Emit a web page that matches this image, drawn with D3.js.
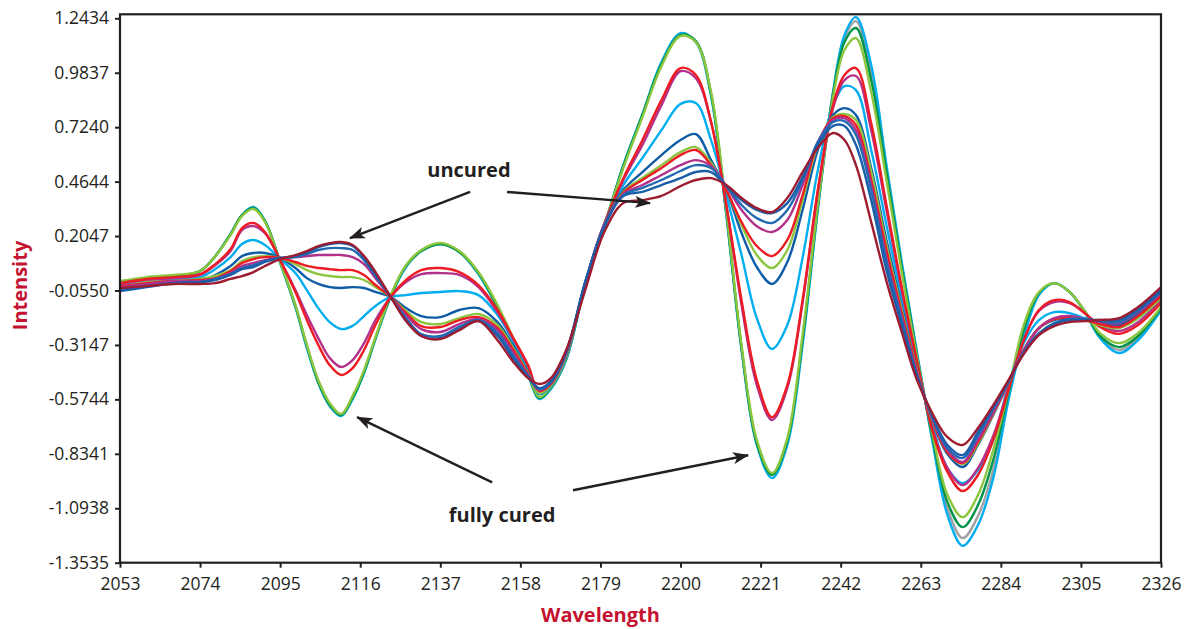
<!DOCTYPE html>
<html>
<head>
<meta charset="utf-8">
<script src="https://cdnjs.cloudflare.com/ajax/libs/d3/7.8.5/d3.min.js"></script>
<style>
  body { margin: 0; background: #fff; }
  svg { display: block; font-family: "Open Sans", sans-serif; }
</style>
</head>
<body>
<div id="chart"></div>
<script>
// wavelength grid shared by every spectrum
const wavelengths = [2053,2060,2067,2074,2078,2082,2085,2088,2091,2095,2099,2102,2105,2108,2111,2114,2117,2120,2124,2128,2132,2137,2142,2147,2152,2156,2160,2163,2166,2170,2175,2180,2185,2190,2195,2200,2204,2208,2212,2216,2220,2224,2228,2232,2236,2240,2243,2246,2250,2254,2258,2262,2266,2270,2274,2278,2282,2286,2290,2294,2298,2302,2306,2310,2315,2320,2326];

// spectra, roughly from uncured to fully cured
const darkRed = [-0.043,-0.034,-0.024,-0.024,-0.020,0.000,0.014,0.033,0.062,0.095,0.114,0.133,0.157,0.171,0.176,0.162,0.109,0.033,-0.086,-0.201,-0.272,-0.287,-0.244,-0.201,-0.292,-0.392,-0.473,-0.501,-0.473,-0.339,-0.053,0.224,0.362,0.376,0.396,0.443,0.472,0.481,0.448,0.386,0.338,0.319,0.386,0.510,0.625,0.696,0.663,0.543,0.271,-0.010,-0.253,-0.482,-0.640,-0.755,-0.792,-0.711,-0.602,-0.482,-0.358,-0.268,-0.225,-0.206,-0.201,-0.196,-0.187,-0.134,-0.039];
const blue1 = [-0.058,-0.039,-0.020,-0.015,-0.005,0.019,0.047,0.057,0.081,0.100,0.109,0.128,0.152,0.167,0.171,0.157,0.104,0.023,-0.086,-0.196,-0.272,-0.282,-0.239,-0.201,-0.272,-0.377,-0.468,-0.521,-0.487,-0.349,-0.015,0.248,0.396,0.415,0.448,0.481,0.510,0.510,0.443,0.376,0.329,0.314,0.362,0.486,0.639,0.730,0.730,0.639,0.376,0.042,-0.220,-0.468,-0.649,-0.792,-0.840,-0.730,-0.611,-0.487,-0.353,-0.263,-0.215,-0.196,-0.196,-0.196,-0.196,-0.144,-0.053];
const blue2 = [-0.053,-0.034,-0.020,-0.015,0.000,0.023,0.052,0.066,0.085,0.100,0.104,0.119,0.138,0.147,0.147,0.138,0.090,0.014,-0.086,-0.187,-0.263,-0.272,-0.229,-0.196,-0.258,-0.363,-0.463,-0.525,-0.492,-0.353,-0.015,0.252,0.400,0.434,0.472,0.515,0.543,0.529,0.443,0.353,0.290,0.267,0.329,0.472,0.653,0.749,0.753,0.687,0.424,0.081,-0.196,-0.458,-0.659,-0.807,-0.854,-0.749,-0.621,-0.492,-0.349,-0.258,-0.210,-0.191,-0.191,-0.201,-0.206,-0.153,-0.062];
const magenta1 = [-0.039,-0.024,-0.010,-0.010,0.000,0.028,0.062,0.076,0.090,0.100,0.104,0.109,0.114,0.114,0.114,0.104,0.071,0.004,-0.086,-0.172,-0.239,-0.253,-0.215,-0.191,-0.244,-0.349,-0.458,-0.530,-0.496,-0.353,-0.020,0.257,0.405,0.448,0.496,0.543,0.567,0.539,0.443,0.329,0.252,0.224,0.281,0.448,0.653,0.758,0.767,0.710,0.448,0.100,-0.182,-0.449,-0.663,-0.816,-0.873,-0.768,-0.635,-0.492,-0.339,-0.234,-0.187,-0.177,-0.191,-0.206,-0.210,-0.158,-0.067];
const red1 = [-0.034,-0.020,-0.010,-0.005,0.004,0.038,0.076,0.095,0.104,0.100,0.081,0.062,0.052,0.047,0.042,0.042,0.019,-0.029,-0.086,-0.162,-0.225,-0.229,-0.196,-0.182,-0.234,-0.334,-0.453,-0.535,-0.501,-0.358,-0.020,0.257,0.410,0.472,0.529,0.591,0.615,0.543,0.424,0.271,0.157,0.109,0.186,0.400,0.648,0.767,0.777,0.734,0.472,0.138,-0.163,-0.439,-0.668,-0.826,-0.878,-0.778,-0.640,-0.496,-0.339,-0.234,-0.191,-0.187,-0.196,-0.215,-0.229,-0.177,-0.082];
const green1 = [-0.039,-0.015,-0.010,0.000,0.014,0.042,0.085,0.104,0.109,0.100,0.071,0.042,0.023,0.014,0.009,0.009,-0.005,-0.039,-0.086,-0.153,-0.206,-0.215,-0.187,-0.167,-0.220,-0.325,-0.449,-0.544,-0.506,-0.363,-0.020,0.257,0.415,0.482,0.543,0.605,0.629,0.553,0.424,0.257,0.114,0.052,0.138,0.376,0.639,0.772,0.787,0.758,0.510,0.162,-0.148,-0.435,-0.673,-0.826,-0.883,-0.787,-0.644,-0.496,-0.339,-0.234,-0.191,-0.187,-0.196,-0.220,-0.234,-0.187,-0.091];
const darkBlue = [-0.048,-0.029,-0.015,-0.010,0.019,0.062,0.109,0.124,0.124,0.100,0.052,0.004,-0.024,-0.039,-0.043,-0.039,-0.043,-0.062,-0.086,-0.139,-0.177,-0.182,-0.148,-0.139,-0.206,-0.315,-0.444,-0.539,-0.501,-0.363,-0.020,0.262,0.424,0.510,0.591,0.663,0.691,0.567,0.424,0.219,0.057,-0.024,0.081,0.329,0.615,0.782,0.815,0.782,0.529,0.186,-0.134,-0.430,-0.678,-0.835,-0.897,-0.792,-0.649,-0.496,-0.339,-0.234,-0.196,-0.187,-0.196,-0.210,-0.220,-0.167,-0.072];
const cyan1 = [-0.024,-0.010,0.000,0.009,0.047,0.104,0.167,0.186,0.162,0.095,0.028,-0.053,-0.139,-0.206,-0.239,-0.224,-0.177,-0.129,-0.086,-0.077,-0.067,-0.062,-0.058,-0.077,-0.172,-0.292,-0.425,-0.549,-0.511,-0.373,-0.024,0.257,0.448,0.577,0.710,0.835,0.839,0.662,0.400,0.114,-0.187,-0.334,-0.220,0.100,0.519,0.829,0.920,0.901,0.615,0.257,-0.091,-0.411,-0.697,-0.902,-0.974,-0.912,-0.768,-0.506,-0.306,-0.196,-0.158,-0.163,-0.187,-0.210,-0.229,-0.187,-0.091];
const magenta2 = [-0.024,-0.005,0.004,0.019,0.066,0.133,0.233,0.252,0.219,0.090,-0.053,-0.172,-0.282,-0.377,-0.420,-0.387,-0.306,-0.196,-0.086,-0.015,0.023,0.028,0.019,-0.039,-0.158,-0.282,-0.415,-0.539,-0.501,-0.363,-0.020,0.262,0.472,0.639,0.829,0.991,0.958,0.749,0.353,-0.124,-0.506,-0.673,-0.520,-0.115,0.415,0.815,0.949,0.968,0.710,0.329,-0.053,-0.396,-0.711,-0.902,-0.983,-0.902,-0.749,-0.520,-0.292,-0.153,-0.110,-0.115,-0.163,-0.220,-0.248,-0.206,-0.101];
const red2 = [-0.020,0.000,0.009,0.023,0.071,0.143,0.243,0.267,0.224,0.090,-0.062,-0.196,-0.315,-0.411,-0.458,-0.425,-0.339,-0.220,-0.086,-0.005,0.042,0.052,0.033,-0.029,-0.148,-0.277,-0.411,-0.544,-0.506,-0.363,-0.020,0.262,0.481,0.662,0.853,1.006,0.973,0.749,0.353,-0.101,-0.482,-0.659,-0.506,-0.101,0.424,0.829,0.973,1.006,0.743,0.353,-0.039,-0.392,-0.720,-0.921,-1.012,-0.935,-0.768,-0.530,-0.292,-0.148,-0.101,-0.110,-0.163,-0.229,-0.262,-0.220,-0.115];
const green2 = [-0.010,0.009,0.019,0.038,0.109,0.209,0.300,0.334,0.272,0.081,-0.124,-0.315,-0.482,-0.592,-0.644,-0.558,-0.435,-0.277,-0.077,0.066,0.138,0.172,0.133,0.033,-0.124,-0.277,-0.444,-0.563,-0.515,-0.377,-0.015,0.257,0.529,0.772,1.015,1.159,1.130,0.892,0.329,-0.315,-0.768,-0.926,-0.759,-0.267,0.353,0.867,1.092,1.149,0.892,0.472,0.033,-0.373,-0.731,-1.031,-1.136,-1.031,-0.816,-0.530,-0.220,-0.062,-0.020,-0.062,-0.153,-0.258,-0.306,-0.258,-0.134];
const darkGreen = [-0.015,0.004,0.014,0.038,0.109,0.214,0.305,0.339,0.277,0.081,-0.129,-0.320,-0.492,-0.601,-0.649,-0.568,-0.444,-0.282,-0.081,0.062,0.133,0.167,0.129,0.028,-0.134,-0.287,-0.453,-0.568,-0.520,-0.382,-0.024,0.252,0.539,0.782,1.025,1.164,1.135,0.882,0.315,-0.330,-0.783,-0.935,-0.772,-0.292,0.343,0.882,1.130,1.197,0.949,0.510,0.056,-0.363,-0.749,-1.065,-1.184,-1.079,-0.864,-0.544,-0.244,-0.067,-0.020,-0.062,-0.153,-0.272,-0.325,-0.272,-0.139];
const gray = [-0.015,0.004,0.014,0.038,0.109,0.214,0.305,0.339,0.277,0.081,-0.129,-0.320,-0.492,-0.601,-0.649,-0.568,-0.444,-0.282,-0.081,0.062,0.133,0.167,0.129,0.028,-0.134,-0.287,-0.453,-0.568,-0.520,-0.382,-0.024,0.252,0.539,0.782,1.025,1.164,1.135,0.882,0.315,-0.330,-0.783,-0.935,-0.772,-0.292,0.343,0.887,1.149,1.230,0.987,0.529,0.066,-0.358,-0.759,-1.093,-1.236,-1.131,-0.911,-0.568,-0.268,-0.072,-0.020,-0.062,-0.158,-0.277,-0.339,-0.282,-0.144];
const cyan2 = [-0.015,0.004,0.014,0.038,0.109,0.214,0.305,0.343,0.277,0.076,-0.134,-0.330,-0.496,-0.606,-0.654,-0.573,-0.449,-0.287,-0.086,0.057,0.133,0.167,0.129,0.023,-0.139,-0.292,-0.458,-0.573,-0.525,-0.387,-0.029,0.252,0.543,0.786,1.035,1.173,1.130,0.873,0.305,-0.339,-0.792,-0.950,-0.792,-0.315,0.329,0.892,1.164,1.249,1.021,0.543,0.081,-0.349,-0.768,-1.126,-1.273,-1.174,-0.950,-0.578,-0.282,-0.077,-0.020,-0.062,-0.158,-0.282,-0.353,-0.292,-0.148];

const xTicks = [2053,2074,2095,2116,2137,2158,2179,2200,2221,2242,2263,2284,2305,2326];
const yTicks = [1.2434,0.9837,0.7240,0.4644,0.2047,-0.0550,-0.3147,-0.5744,-0.8341,-1.0938,-1.3535];

// draw order: later ones end up on top
const series = [
  { values: gray, color: '#a1a1a4' },
  { values: cyan2, color: '#00adef' },
  { values: darkGreen, color: '#00944a' },
  { values: green2, color: '#8cc63f' },
  { values: cyan1, color: '#00adef' },
  { values: magenta2, color: '#b3318b' },
  { values: red2, color: '#ed1c24' },
  { values: darkBlue, color: '#0f5ca6' },
  { values: green1, color: '#8cc63f' },
  { values: red1, color: '#ed1c24' },
  { values: magenta1, color: '#b3318b' },
  { values: blue2, color: '#2169b2' },
  { values: blue1, color: '#1a5da8' },
  { values: darkRed, color: '#9e1c30' }
];

const width = 1190;
const height = 629;
const margin = { top: 18.3, right: 29, bottom: 66.3, left: 120 };
const ink = '#231f20';
const redLabel = '#c41230';

const svg = d3.select('#chart').append('svg')
  .attr('width', width)
  .attr('height', height);

const x = d3.scaleLinear()
  .domain([2053, 2326])
  .range([margin.left, width - margin.right]);
const y = d3.scaleLinear()
  .domain([-1.3535, 1.2434])
  .range([height - margin.bottom, margin.top]);

const line = d3.line()
  .x((d, i) => x(wavelengths[i]))
  .y(d => y(d))
  .curve(d3.curveCatmullRom.alpha(0.5));

svg.append('g')
  .selectAll('path')
  .data(series)
  .enter()
  .append('path')
    .attr('d', d => line(d.values))
    .attr('fill', 'none')
    .attr('stroke', d => d.color)
    .attr('stroke-width', 2.4)
    .attr('stroke-linejoin', 'round');

// frame (top edge sits a little above the first tick)
const frameTop = y(1.2434) - 4;
svg.append('rect')
  .attr('x', x(2053))
  .attr('y', frameTop)
  .attr('width', x(2326) - x(2053))
  .attr('height', y(-1.3535) - frameTop)
  .attr('fill', 'none')
  .attr('stroke', ink)
  .attr('stroke-width', 2.2);

svg.append('g')
  .attr('transform', `translate(${x(2053)}, 0)`)
  .call(d3.axisLeft(y).tickValues(yTicks).tickSize(5).tickPadding(6).tickFormat(d => d.toFixed(4)))
  .call(g => g.select('.domain').remove());

svg.append('g')
  .attr('transform', `translate(0, ${y(-1.3535)})`)
  .call(d3.axisBottom(x).tickValues(xTicks).tickSize(5).tickPadding(10).tickFormat(d3.format('d')))
  .call(g => g.select('.domain').remove());

svg.selectAll('.tick line').attr('stroke', ink).attr('stroke-width', 2);
svg.selectAll('.tick text')
  .attr('fill', ink)
  .style('font-size', '17.5px')
  .style('font-family', '"Open Sans", sans-serif');

svg.append('text')
  .attr('transform', `translate(27, ${y(-0.0550) - 5}) rotate(-90)`)
  .attr('text-anchor', 'middle')
  .attr('fill', redLabel)
  .style('font-weight', 'bold')
  .style('font-size', '20px')
  .text('Intensity');

svg.append('text')
  .attr('x', x(2179))
  .attr('y', 622)
  .attr('text-anchor', 'middle')
  .attr('fill', redLabel)
  .style('font-weight', 'bold')
  .style('font-size', '20px')
  .text('Wavelength');

// annotations
svg.append('defs').append('marker')
  .attr('id', 'head')
  .attr('viewBox', '0 0 16 12')
  .attr('refX', 15)
  .attr('refY', 6)
  .attr('markerWidth', 16)
  .attr('markerHeight', 12)
  .attr('markerUnits', 'userSpaceOnUse')
  .attr('orient', 'auto')
  .append('path')
    .attr('d', 'M0,0 L16,6 L0,12 L4,6 Z')
    .attr('fill', ink);

const notes = [
  { text: 'uncured', at: [2144.5, 0.486] },
  { text: 'fully cured', at: [2153.2, -1.160] }
];
const arrows = [
  { from: [2144.8, 0.415], to: [2113.3, 0.195] },
  { from: [2154.5, 0.415], to: [2192.0, 0.362] },
  { from: [2150.6, -0.970], to: [2115.2, -0.659] },
  { from: [2171.8, -1.008], to: [2217.7, -0.841] }
];

svg.append('g')
  .selectAll('text')
  .data(notes)
  .enter()
  .append('text')
    .attr('x', d => x(d.at[0]))
    .attr('y', d => y(d.at[1]))
    .attr('text-anchor', 'middle')
    .attr('fill', ink)
    .style('font-weight', 'bold')
    .style('font-size', '20px')
    .text(d => d.text);

svg.append('g')
  .selectAll('line')
  .data(arrows)
  .enter()
  .append('line')
    .attr('x1', d => x(d.from[0]))
    .attr('y1', d => y(d.from[1]))
    .attr('x2', d => x(d.to[0]))
    .attr('y2', d => y(d.to[1]))
    .attr('stroke', ink)
    .attr('stroke-width', 2.4)
    .attr('marker-end', 'url(#head)');
</script>
</body>
</html>
